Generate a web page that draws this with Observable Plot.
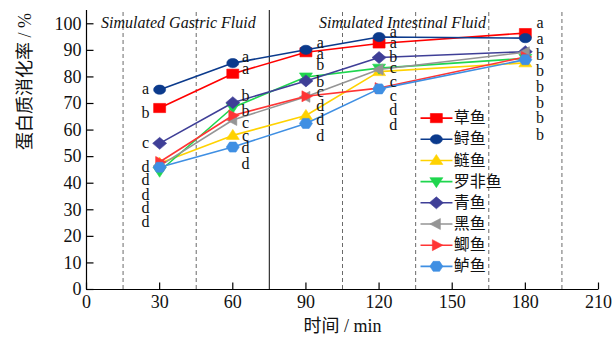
<!DOCTYPE html>
<html>
<head>
<meta charset="utf-8">
<script src="https://cdn.jsdelivr.net/npm/d3@7"></script>
<script src="https://cdn.jsdelivr.net/npm/@observablehq/plot@0.6"></script>
<style>
  html, body { margin: 0; padding: 0; background: white; }
</style>
</head>
<body>
<div id="chart"></div>
<script>
// ---------- data ----------
const times = [30, 60, 90, 120, 180];
const fishNames = ["草鱼", "鲟鱼", "鲢鱼", "罗非鱼", "青鱼", "黑鱼", "鲫鱼", "鲈鱼"];
const caoyu    = [68.3, 81.2, 89.3, 92.6, 96.5];
const xunyu    = [75.2, 85.2, 90.2, 95.0, 94.6];
const lianyu   = [47.5, 58.0, 65.5, 82.0, 85.3];
const luofeiyu = [44.5, 68.5, 80.0, 83.3, 87.0];
const qingyu   = [55.0, 70.3, 78.5, 87.3, 89.5];
const heiyu    = [46.5, 63.8, 72.5, 82.8, 89.3];
const jiyu     = [48.0, 65.5, 72.7, 75.8, 87.5];
const luyu     = [46.0, 53.6, 62.5, 75.5, 86.5];
const seriesValues = [caoyu, xunyu, lianyu, luofeiyu, qingyu, heiyu, jiyu, luyu];

const xTicks = [0, 30, 60, 90, 120, 150, 180, 210];
const yTicks = [0, 10, 20, 30, 40, 50, 60, 70, 80, 90, 100];

// significance letters (per time point, top to bottom)
const letters30  = ["a", "b", "c", "d", "d", "d", "d", "d"];
const letters60  = ["a", "a", "b", "b", "c", "c", "d", "d"];
const letters90  = ["a", "a", "b", "b", "c", "d", "d", "d"];
const letters120 = ["a", "a", "b", "c", "c", "c", "d", "d"];
const letters180 = ["a", "a", "b", "b", "b", "b", "b", "b"];

// phase labels
const phaseLabels = ["Simulated Gastric Fluid", "Simulated Intestinal Fluid"];

// ---------- annotation placement (not data) ----------
const letterX = [24.2, 65.2, 95.9, 125.8, 186];
const letterY = [
  [75.2, 66.2, 54.9, 45.9, 41.0, 35.3, 30.5, 25.2],
  [87.1, 82.7, 72.3, 66.7, 62.5, 57.6, 52.9, 46.9],
  [92.6, 88.3, 84.2, 77.9, 73.9, 68.8, 63.5, 57.5],
  [96.4, 92.4, 87.3, 83.0, 77.9, 72.3, 67.3, 61.7],
  [99.9, 93.9, 88.0, 82.0, 76.0, 70.0, 64.2, 57.9]
];
const phaseX = [37.7, 129.6];
const dashedX = [15, 45, 105, 135, 165, 195];
const solidX = [75];

// ---------- styles ----------
const fishColors = ["#ff0000", "#0b3a8c", "#ffd200", "#1fd64e", "#3f3f97", "#959595", "#ff3535", "#3f8fe3"];

function poly(points) {
  return {
    draw(ctx) {
      ctx.moveTo(points[0][0], points[0][1]);
      for (let i = 1; i < points.length; i++) ctx.lineTo(points[i][0], points[i][1]);
      ctx.closePath();
    }
  };
}
const ellipse = {
  draw(ctx) {
    const rx = 6, ry = 4.6, k = 0.5523;
    ctx.moveTo(rx, 0);
    ctx.bezierCurveTo(rx, ry * k, rx * k, ry, 0, ry);
    ctx.bezierCurveTo(-rx * k, ry, -rx, ry * k, -rx, 0);
    ctx.bezierCurveTo(-rx, -ry * k, -rx * k, -ry, 0, -ry);
    ctx.bezierCurveTo(rx * k, -ry, rx, -ry * k, rx, 0);
    ctx.closePath();
  }
};
const fishSymbols = [
  poly([[-6, -4.6], [6, -4.6], [6, 4.6], [-6, 4.6]]),     // square
  ellipse,                                                  // circle
  poly([[0, -6], [6.5, 4], [-6.5, 4]]),                     // triangle up
  poly([[0, 6], [6.5, -4], [-6.5, -4]]),                    // triangle down
  poly([[0, -6], [7, 0], [0, 6], [-7, 0]]),                 // diamond
  poly([[-6.5, 0], [4, -5.5], [4, 5.5]]),                   // triangle left
  poly([[6.5, 0], [-4, -5.5], [-4, 5.5]]),                  // triangle right
  poly([[-6.5, 0], [-3.2, -5], [3.2, -5], [6.5, 0], [3.2, 5], [-3.2, 5]]) // hexagon
];
const tickRight = { draw(ctx) { ctx.moveTo(0, 0); ctx.lineTo(7, 0); } };
const tickUp = { draw(ctx) { ctx.moveTo(0, 0); ctx.lineTo(0, -7); } };

// ---------- build ----------
const marks = [];

// phase divider lines
marks.push(Plot.ruleX(dashedX, { y1: 0, y2: 105, stroke: "#6a6a6a", strokeWidth: 1, strokeDasharray: "4,3" }));
marks.push(Plot.ruleX(solidX, { y1: 0, y2: 105, stroke: "#333", strokeWidth: 1.2 }));

// series
fishNames.forEach((name, i) => {
  const rows = times.map((t, j) => ({ t, v: seriesValues[i][j] }));
  marks.push(Plot.line(rows, { x: "t", y: "v", stroke: fishColors[i], strokeWidth: 1.6 }));
  marks.push(Plot.dot(rows, { x: "t", y: "v", symbol: fishSymbols[i], r: 5, fill: fishColors[i], stroke: fishColors[i], strokeWidth: 0.6 }));
});

// letters
const letterSets = [letters30, letters60, letters90, letters120, letters180];
const letterRows = [];
letterSets.forEach((set, k) => set.forEach((s, m) => letterRows.push({ x: letterX[k], y: letterY[k][m], s })));
marks.push(Plot.text(letterRows, { x: "x", y: "y", text: "s", fontSize: 16, lineHeight: 0.8, fill: "#111", fontFamily: "'Liberation Serif', serif" }));

// phase labels
marks.push(Plot.text(phaseLabels, { x: (d, i) => phaseX[i], y: 100.4, text: d => d, fontSize: 16, fontStyle: "italic", fill: "#111", fontFamily: "'Liberation Serif', serif" }));

// legend
const legTop = 64.5, legStep = 7.97;
const legendRows = fishNames.map((name, i) => ({ name, i, y: legTop - i * legStep }));
legendRows.forEach(r => {
  marks.push(Plot.link([r], { x1: 137, x2: 150.1, y1: "y", y2: "y", stroke: fishColors[r.i], strokeWidth: 1.6 }));
  marks.push(Plot.dot([r], { x: 143.5, y: "y", symbol: fishSymbols[r.i], r: 5, fill: fishColors[r.i], stroke: fishColors[r.i], strokeWidth: 0.6 }));
});
marks.push(Plot.text(legendRows, { x: 150.6, y: "y", text: "name", textAnchor: "start", fontSize: 16, fill: "#111", fontFamily: "'Noto Sans CJK SC', sans-serif" }));

// axes
marks.push(Plot.ruleX([0], { y1: 0, y2: 105, stroke: "#000", strokeWidth: 1.2 }));
marks.push(Plot.ruleY([0], { x1: 0, x2: 210, stroke: "#000", strokeWidth: 1.2 }));
marks.push(Plot.dot(yTicks, { x: 0, y: d => d, symbol: tickRight, r: 5, fill: "none", stroke: "#000", strokeWidth: 1.2 }));
marks.push(Plot.dot(xTicks, { x: d => d, y: 0, symbol: tickUp, r: 5, fill: "none", stroke: "#000", strokeWidth: 1.2 }));
marks.push(Plot.axisY(yTicks, { tickSize: 0, tickPadding: 5, label: null, fontSize: 18, fill: "#111" }));
marks.push(Plot.axisX(xTicks, { tickSize: 0, tickPadding: 6, label: null, fontSize: 18, fill: "#111" }));

// axis titles
marks.push(Plot.text(["时间 / min"], { frameAnchor: "bottom", dy: 42, text: d => d, fontSize: 18, fill: "#111", fontFamily: "'Liberation Serif', 'Noto Sans CJK SC', serif" }));
marks.push(Plot.text(["蛋白质消化率 / %"], { frameAnchor: "left", dx: -61, rotate: -90, text: d => d, fontSize: 18, fill: "#111", fontFamily: "'Liberation Serif', 'Noto Sans CJK SC', serif" }));

const chart = Plot.plot({
  width: 614,
  height: 358,
  marginLeft: 86,
  marginRight: 16,
  marginTop: 10,
  marginBottom: 69,
  x: { domain: [0, 210] },
  y: { domain: [0, 105] },
  style: { fontFamily: "'Liberation Serif', 'Noto Sans CJK SC', serif", fontSize: "18px", background: "white", color: "#111" },
  marks
});
document.getElementById("chart").appendChild(chart);
</script>
</body>
</html>
